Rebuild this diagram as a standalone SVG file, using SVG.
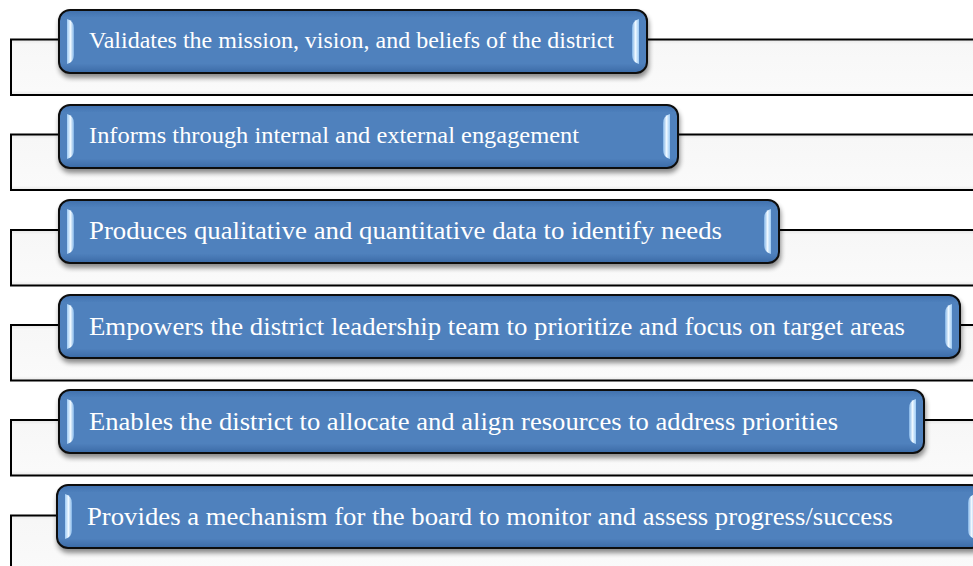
<svg xmlns="http://www.w3.org/2000/svg" width="973" height="566" viewBox="0 0 973 566">
  <defs>
    <linearGradient id="nodeFill" x1="0" y1="0" x2="0" y2="1">
      <stop offset="0" stop-color="#3f70ad"/>
      <stop offset="0.12" stop-color="#4f81bd"/>
      <stop offset="0.85" stop-color="#4f81bd"/>
      <stop offset="1" stop-color="#3b6aa6"/>
    </linearGradient>
    <linearGradient id="bandFill" x1="0" y1="0" x2="0" y2="1">
      <stop offset="0" stop-color="#e6e6e6"/>
      <stop offset="0.08" stop-color="#f7f7f7"/>
      <stop offset="0.92" stop-color="#fafafa"/>
      <stop offset="1" stop-color="#e8e8e8"/>
    </linearGradient>
    <linearGradient id="glintL" x1="0" y1="0" x2="1" y2="0">
      <stop offset="0" stop-color="#9ccaf5"/>
      <stop offset="0.5" stop-color="#eef8ff"/>
      <stop offset="1" stop-color="#7fb2e6"/>
    </linearGradient>
    <linearGradient id="glintR" x1="1" y1="0" x2="0" y2="0">
      <stop offset="0" stop-color="#9ccaf5"/>
      <stop offset="0.5" stop-color="#eef8ff"/>
      <stop offset="1" stop-color="#7fb2e6"/>
    </linearGradient>
    <filter id="shadow" x="-5%" y="-20%" width="110%" height="150%">
      <feGaussianBlur in="SourceAlpha" stdDeviation="2.5"/>
      <feOffset dx="1" dy="4" result="b"/>
      <feComponentTransfer><feFuncA type="linear" slope="0.45"/></feComponentTransfer>
      <feMerge><feMergeNode/><feMergeNode in="SourceGraphic"/></feMerge>
    </filter>
  </defs>
  <style>
    .band { fill: url(#bandFill); stroke: #000; stroke-width: 2; }
    .box { fill: url(#nodeFill); stroke: #111; stroke-width: 2; filter: url(#shadow); }
    .gl { fill: url(#glintL); }
    .gr { fill: url(#glintR); }
    .lbl { font-family: "Liberation Serif", "Times New Roman", serif; fill: #fff; }
  </style>

  <!-- bracket lines behind each statement -->
  <g id="connectors">
    <rect class="band" x="11" y="39.5" width="975" height="55.5"/>
    <rect class="band" x="11" y="134.5" width="975" height="55.5"/>
    <rect class="band" x="11" y="230" width="975" height="55.5"/>
    <rect class="band" x="11" y="325" width="975" height="55.5"/>
    <rect class="band" x="11" y="420" width="975" height="55.5"/>
    <rect class="band" x="11" y="515.5" width="975" height="60"/>
  </g>

  <g id="node1">
    <rect class="box" x="59" y="10" width="588" height="63" rx="11"/>
    <path class="gl" d="M67,19 q7,2 7,9 v27 q0,7 -7,9 z"/>
    <path class="gr" d="M639,19 q-7,2 -7,9 v27 q0,7 7,9 z"/>
    <text class="lbl" x="89" y="47.5" font-size="22.5" textLength="525" lengthAdjust="spacingAndGlyphs">Validates the mission, vision, and beliefs of the district</text>
  </g>

  <g id="node2">
    <rect class="box" x="59" y="105" width="619" height="63" rx="11"/>
    <path class="gl" d="M67,114 q7,2 7,9 v27 q0,7 -7,9 z"/>
    <path class="gr" d="M670,114 q-7,2 -7,9 v27 q0,7 7,9 z"/>
    <text class="lbl" x="89" y="142.5" font-size="22.5" textLength="490" lengthAdjust="spacingAndGlyphs">Informs through internal and external engagement</text>
  </g>

  <g id="node3">
    <rect class="box" x="59" y="200" width="720" height="63" rx="11"/>
    <path class="gl" d="M67,209 q7,2 7,9 v27 q0,7 -7,9 z"/>
    <path class="gr" d="M771,209 q-7,2 -7,9 v27 q0,7 7,9 z"/>
    <text class="lbl" x="89" y="239" font-size="24.5" textLength="633" lengthAdjust="spacingAndGlyphs">Produces qualitative and quantitative data to identify needs</text>
  </g>

  <g id="node4">
    <rect class="box" x="59" y="295" width="901" height="63" rx="11"/>
    <path class="gl" d="M67,304 q7,2 7,9 v27 q0,7 -7,9 z"/>
    <path class="gr" d="M952,304 q-7,2 -7,9 v27 q0,7 7,9 z"/>
    <text class="lbl" x="89" y="335" font-size="24.5" textLength="816" lengthAdjust="spacingAndGlyphs">Empowers the district leadership team to prioritize and focus on target areas</text>
  </g>

  <g id="node5">
    <rect class="box" x="59" y="390" width="865" height="63" rx="11"/>
    <path class="gl" d="M67,399 q7,2 7,9 v27 q0,7 -7,9 z"/>
    <path class="gr" d="M916,399 q-7,2 -7,9 v27 q0,7 7,9 z"/>
    <text class="lbl" x="89" y="429.5" font-size="24.5" textLength="749" lengthAdjust="spacingAndGlyphs">Enables the district to allocate and align resources to address priorities</text>
  </g>

  <g id="node6">
    <rect class="box" x="57" y="485" width="926" height="63" rx="11"/>
    <path class="gl" d="M65,494 q7,2 7,9 v27 q0,7 -7,9 z"/>
    <path class="gr" d="M975,494 q-7,2 -7,9 v27 q0,7 7,9 z"/>
    <text class="lbl" x="87" y="524.5" font-size="24.5" textLength="806" lengthAdjust="spacingAndGlyphs">Provides a mechanism for the board to monitor and assess progress/success</text>
  </g>
</svg>
